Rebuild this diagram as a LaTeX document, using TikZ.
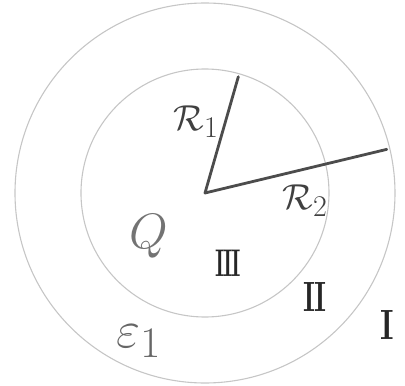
\documentclass[tikz,border=0pt]{standalone}
\usepackage{amsmath}
\usepackage{amssymb}
\usepackage{tikz}

\tikzset{
  shell/.style={gray!45, line width=1.1pt},
  radius line/.style={black!70, line width=2.8pt},
  lbl/.style={black!75, inner sep=0pt, font=\Huge},
  region/.style={lbl, black!85, font=\Huge\bfseries}
}

\begin{document}
\begin{tikzpicture}[x=1pt, y=1pt, >=stealth]
        \useasboundingbox (-205,-193) rectangle (200,193);
        \coordinate (O) at (0,0);
        \draw[shell] (O) circle (124);
        \draw[shell] (O) circle (190);
        \coordinate (A) at (74:121);
        \coordinate (B) at (13.5:187);
        \draw[radius line, line cap=round, line join=round] (A) -- (O) -- (B);
        \node[lbl, scale=1.45] (r1) at (-9,71) {$\mathcal{R}_1$};
        \node[lbl, scale=1.45] (r2) at (100,-8) {$\mathcal{R}_2$};
        \node[lbl, black!55, scale=2] (q) at (-56,-43) {$Q$};
        \node[region, xscale=0.9, yscale=1.55] (r3) at (23,-70) {I\kern-1.5pt I\kern-1.5pt I};
        \node[region, xscale=1.15, yscale=1.7] (r2n) at (110,-104) {I\kern-1pt I};
        \node[region, xscale=1.3, yscale=1.7] (r1n) at (182,-132) {I};
        \node[lbl, black!60, scale=2.1] (eps) at (-66,-148) {$\varepsilon_1$};
    \end{tikzpicture}
\end{document}
